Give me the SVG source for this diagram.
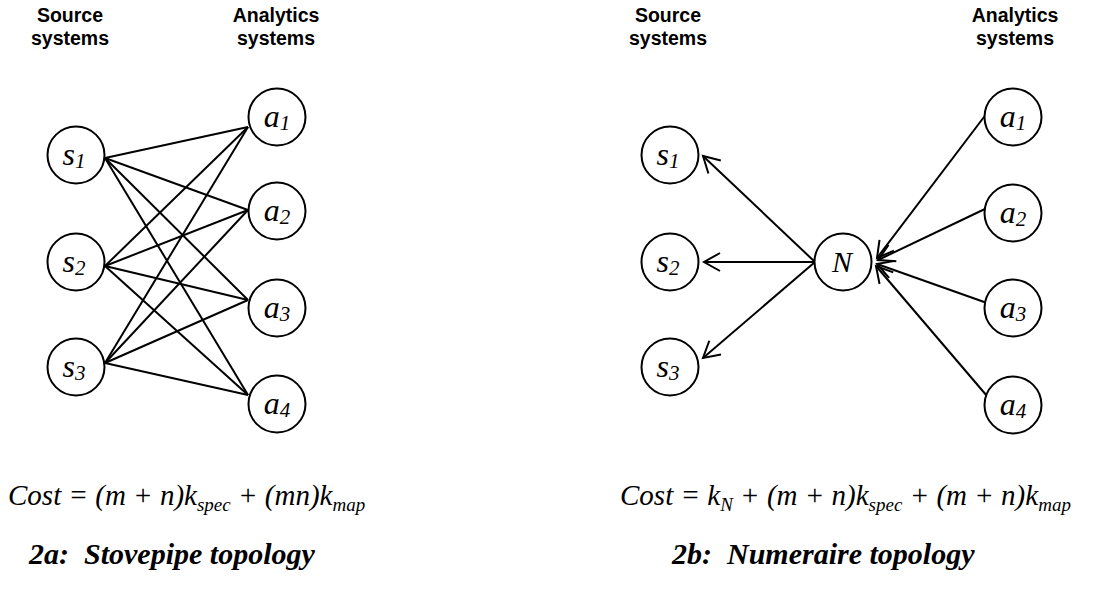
<svg xmlns="http://www.w3.org/2000/svg" width="1118" height="589" viewBox="0 0 1118 589">
  <style>
    .head { font-family: "Liberation Sans", Arial, sans-serif; font-weight: bold; font-size: 19.5px; fill: #000; text-anchor: middle; }
    .node circle { fill: #fff; stroke: #000; stroke-width: 2; }
    .lbl { font-family: "Liberation Serif", "Times New Roman", serif; font-style: italic; font-size: 32px; fill: #000; text-anchor: middle; }
    .lbl .sub { font-size: 21px; }
    .edge { stroke: #000; stroke-width: 2; fill: none; }
    .arrow { stroke: #000; stroke-width: 2; fill: none; marker-end: url(#open); }
    .formula { font-family: "Liberation Serif", "Times New Roman", serif; font-style: italic; font-size: 29px; fill: #000; }
    .formula .sub { font-size: 19px; }
    .caption { font-family: "Liberation Serif", "Times New Roman", serif; font-style: italic; font-weight: bold; font-size: 30px; fill: #000; }
  </style>
  <defs>
    <marker id="open" markerUnits="userSpaceOnUse" viewBox="-20 -12 24 24" refX="0" refY="0" markerWidth="24" markerHeight="24" orient="auto" overflow="visible">
      <path d="M-16,-9 L0,0 L-16,9" fill="none" stroke="#000" stroke-width="2"/>
    </marker>
  </defs>
  <rect width="1118" height="589" fill="#fff"/>

  <!-- Column headings -->
  <g id="headings">
    <text class="head" x="70" y="22">Source</text>
    <text class="head" x="70" y="45">systems</text>
    <text class="head" x="276" y="22">Analytics</text>
    <text class="head" x="276" y="45">systems</text>
    <text class="head" x="668" y="22">Source</text>
    <text class="head" x="668" y="45">systems</text>
    <text class="head" x="1015" y="22">Analytics</text>
    <text class="head" x="1015" y="45">systems</text>
  </g>

  <!-- Stovepipe: every source linked to every analytics system -->
  <g id="stovepipe-edges">
    <line class="edge" x1="105" y1="158" x2="248" y2="127"/>
    <line class="edge" x1="105" y1="158" x2="248" y2="210"/>
    <line class="edge" x1="105" y1="158" x2="248" y2="300"/>
    <line class="edge" x1="105" y1="158" x2="248" y2="395"/>
    <line class="edge" x1="105" y1="266" x2="248" y2="127"/>
    <line class="edge" x1="105" y1="266" x2="248" y2="210"/>
    <line class="edge" x1="105" y1="266" x2="248" y2="300"/>
    <line class="edge" x1="105" y1="266" x2="248" y2="395"/>
    <line class="edge" x1="105" y1="363" x2="248" y2="127"/>
    <line class="edge" x1="105" y1="363" x2="248" y2="210"/>
    <line class="edge" x1="105" y1="363" x2="248" y2="300"/>
    <line class="edge" x1="105" y1="363" x2="248" y2="395"/>
  </g>

  <g id="a-s1" class="node"><circle cx="76" cy="155" r="28.5"/><text class="lbl" x="74" y="165">s<tspan class="sub" dy="3">1</tspan></text></g>
  <g id="a-s2" class="node"><circle cx="76" cy="262" r="28.5"/><text class="lbl" x="74" y="272">s<tspan class="sub" dy="3">2</tspan></text></g>
  <g id="a-s3" class="node"><circle cx="76" cy="367" r="28.5"/><text class="lbl" x="74" y="377">s<tspan class="sub" dy="3">3</tspan></text></g>
  <g id="a-a1" class="node"><circle cx="277" cy="117" r="28.5"/><text class="lbl" x="277" y="127">a<tspan class="sub" dy="3">1</tspan></text></g>
  <g id="a-a2" class="node"><circle cx="277" cy="211" r="28.5"/><text class="lbl" x="277" y="221">a<tspan class="sub" dy="3">2</tspan></text></g>
  <g id="a-a3" class="node"><circle cx="277" cy="308" r="28.5"/><text class="lbl" x="277" y="318">a<tspan class="sub" dy="3">3</tspan></text></g>
  <g id="a-a4" class="node"><circle cx="277" cy="404" r="28.5"/><text class="lbl" x="277" y="414">a<tspan class="sub" dy="3">4</tspan></text></g>

  <!-- Numeraire: analytics systems feed N, N feeds sources -->
  <g id="numeraire-edges">
    <line class="arrow" x1="815" y1="262" x2="703" y2="156"/>
    <line class="arrow" x1="815" y1="262" x2="704" y2="262"/>
    <line class="arrow" x1="815" y1="262" x2="703" y2="358"/>
    <line class="arrow" x1="987" y1="113" x2="877" y2="258"/>
    <line class="arrow" x1="987" y1="208" x2="878" y2="260"/>
    <line class="arrow" x1="987" y1="303" x2="877" y2="264"/>
    <line class="arrow" x1="987" y1="396" x2="876" y2="266"/>
  </g>

  <g id="b-s1" class="node"><circle cx="670" cy="155" r="28.5"/><text class="lbl" x="668" y="165">s<tspan class="sub" dy="3">1</tspan></text></g>
  <g id="b-s2" class="node"><circle cx="670" cy="262" r="28.5"/><text class="lbl" x="668" y="272">s<tspan class="sub" dy="3">2</tspan></text></g>
  <g id="b-s3" class="node"><circle cx="670" cy="367" r="28.5"/><text class="lbl" x="668" y="377">s<tspan class="sub" dy="3">3</tspan></text></g>
  <g id="b-N" class="node"><circle cx="843" cy="262" r="28.5"/><text class="lbl" x="842" y="272" style="font-size:30px">N</text></g>
  <g id="b-a1" class="node"><circle cx="1013" cy="117" r="28.5"/><text class="lbl" x="1013" y="127">a<tspan class="sub" dy="3">1</tspan></text></g>
  <g id="b-a2" class="node"><circle cx="1013" cy="213" r="28.5"/><text class="lbl" x="1013" y="223">a<tspan class="sub" dy="3">2</tspan></text></g>
  <g id="b-a3" class="node"><circle cx="1013" cy="308" r="28.5"/><text class="lbl" x="1013" y="318">a<tspan class="sub" dy="3">3</tspan></text></g>
  <g id="b-a4" class="node"><circle cx="1013" cy="405" r="28.5"/><text class="lbl" x="1013" y="415">a<tspan class="sub" dy="3">4</tspan></text></g>

  <!-- Cost formulas -->
  <g id="formulas">
    <text class="formula" x="8" y="505">Cost = (m + n)k<tspan class="sub" dy="6">spec</tspan><tspan dy="-6"> + (mn)k</tspan><tspan class="sub" dy="6">map</tspan></text>
    <text class="formula" x="620" y="505">Cost = k<tspan class="sub" dy="6">N</tspan><tspan dy="-6"> + (m + n)k</tspan><tspan class="sub" dy="6">spec</tspan><tspan dy="-6"> + (m + n)k</tspan><tspan class="sub" dy="6">map</tspan></text>
  </g>

  <!-- Captions -->
  <g id="captions">
    <text class="caption" x="29" y="564" xml:space="preserve">2a:  Stovepipe topology</text>
    <text class="caption" x="672" y="564" xml:space="preserve">2b:  Numeraire topology</text>
  </g>
</svg>
